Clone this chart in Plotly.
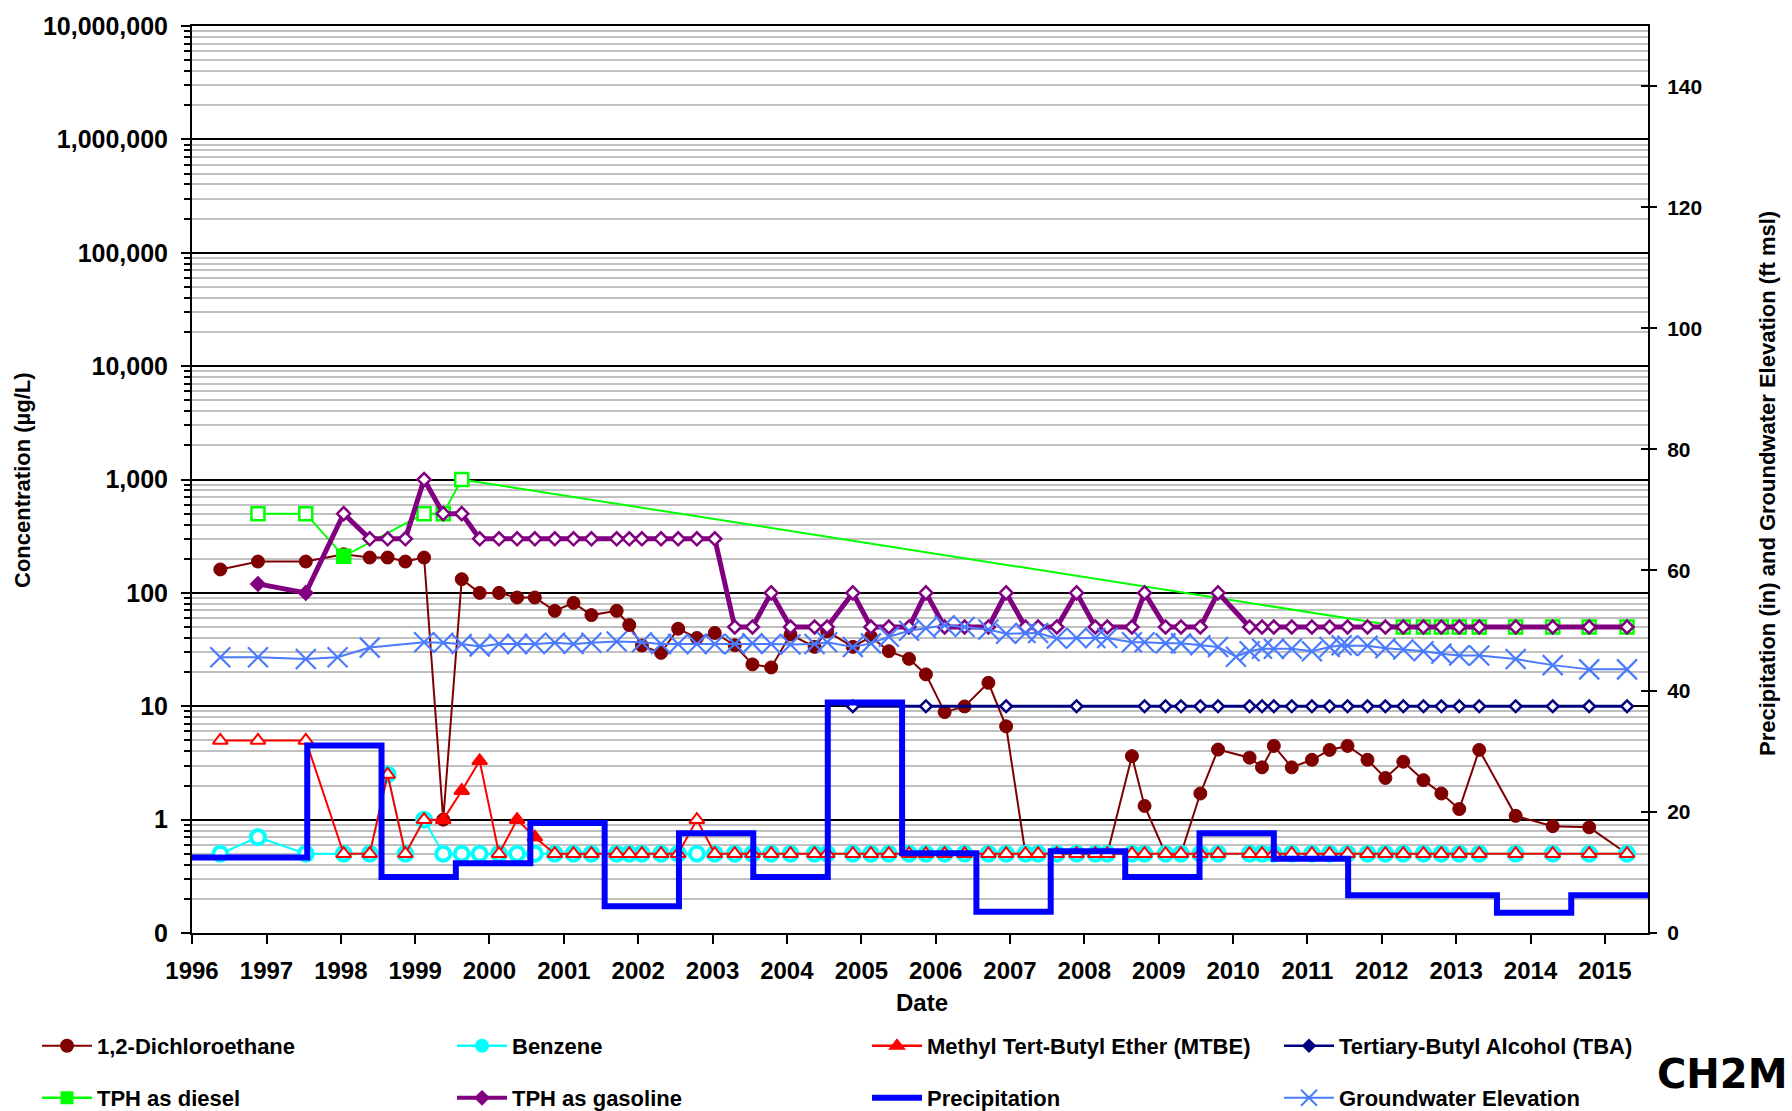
import plotly.graph_objects as go

# ---------------- data ----------------
sample_dates = [
    '1996-05-19', '1996-11-20', '1997-07-13', '1998-01-15', '1998-05-23', '1998-08-19', '1998-11-14',
    '1999-02-14', '1999-05-19', '1999-08-18', '1999-11-14',
    '2000-02-17', '2000-05-16', '2000-08-11', '2000-11-17',
    '2001-02-17', '2001-05-16', '2001-09-17', '2001-11-18',
    '2002-01-19', '2002-04-23', '2002-07-16', '2002-10-16',
    '2003-01-12', '2003-04-20', '2003-07-16', '2003-10-16',
    '2004-01-19', '2004-05-16', '2004-07-17', '2004-11-20',
    '2005-02-17', '2005-05-16', '2005-08-23', '2005-11-14',
    '2006-02-14', '2006-05-23', '2006-09-17', '2006-12-13',
    '2007-03-18', '2007-05-19', '2007-08-19', '2007-11-24',
    '2008-02-24', '2008-04-23', '2008-08-22', '2008-10-23',
    '2009-02-03', '2009-04-20', '2009-07-24', '2009-10-19',
    '2010-03-23', '2010-05-23', '2010-07-20', '2010-10-16',
    '2011-01-23', '2011-04-20', '2011-07-17', '2011-10-23',
    '2012-01-19', '2012-04-16', '2012-07-24', '2012-10-20',
    '2013-01-16', '2013-04-24', '2013-10-20',
    '2014-04-20', '2014-10-16', '2015-04-20']

dichloroethane = [161, 189, 189, 219, 205, 205, 189, 205, 1.0, 132,
                  100, 100, 91, 91, 69.5, 81.6, 63.7, 69.5, 52, 34.3,
                  29.6, 48.3, 40, 44.3, 34.5, 23.4, 22, 42.9, 33.4, 45.8,
                  33.4, 41, 30.6, 26.2, 19.1, 8.88, 9.96, 16.1, 6.65, 0.5,
                  0.5, 0.5, 0.5, 0.5, 0.5, 3.63, 1.32, 0.5, 0.5, 1.7,
                  4.15, 3.52, 2.89, 4.47, 2.89, 3.37, 4.12, 4.47, 3.37, 2.33,
                  3.24, 2.23, 1.70, 1.24, 4.12, 1.08, 0.875, 0.855, 0.5]

benzene = [0.5, 0.7, 0.5, 0.5, 0.5, 2.5, 0.5, 1.0] + [0.5] * 61

mtbe = ([5, 5, 5, 0.5, 0.5, 2.5, 0.5, 1.0, 1.0, 1.8, 3.3, 0.5, 1.0, 0.7]
        + [0.5] * 8 + [1.0] + [0.5] * 46)
mtbe_detected = [False] * 8 + [True, True, True, False, True, True] + [False] * 55

tba = ([None] * 30
       + [10, None, None, None, 10, None, None, None, 10, None, None, None, 10, None, None, None, 10]
       + [10] * 22)

tph_diesel = [None, 500, 500, 210, None, None, None, 500, 500, 1000] + [None] * 50 + [50] * 9
diesel_detected = [False, False, False, True] + [False] * 65

tph_gasoline = ([None, 120, 100, 500, 300, 300, 300, 1000, 500, 500] + [300] * 14
                + [50, 50, 100, 50, 50, 50, 100, 50, 50, 50, 100, 50, 50, 50, 100,
                   50, 50, 50, 100, 50, 50, 50, 100, 50, 50, 50, 100] + [50] * 18)
gasoline_detected = [False, True, True] + [False] * 66

precip_dates = ['1996-01-01', '1997-07-20', '1998-07-20', '1999-07-20', '2000-07-20', '2001-07-20',
                '2002-07-20', '2003-07-20', '2004-07-20', '2005-07-20', '2006-07-20', '2007-07-20',
                '2008-07-20', '2009-07-20', '2010-07-20', '2011-07-20', '2012-07-20', '2013-07-20',
                '2014-07-20', '2015-08-01']
precipitation = [12.5, 31.0, 9.25, 11.55, 18.2, 4.44, 16.5, 9.25, 38.1, 13.2,
                 3.5, 13.5, 9.25, 16.5, 12.3, 6.24, 6.24, 3.34, 6.24, 6.24]

gw_dates = ['1996-05-19', '1996-11-20', '1997-07-13', '1997-12-16', '1998-05-23',
            '1999-02-14', '1999-05-19', '1999-08-18', '1999-11-14',
            '2000-02-17', '2000-05-16', '2000-08-11', '2000-11-17',
            '2001-02-17', '2001-05-16', '2001-09-17',
            '2002-01-19', '2002-04-23', '2002-07-16', '2002-10-16',
            '2003-01-12', '2003-04-20', '2003-07-16', '2003-10-16',
            '2004-01-19', '2004-05-16', '2004-07-17', '2004-11-20',
            '2005-02-17', '2005-05-16', '2005-08-23', '2005-11-14',
            '2006-02-14', '2006-05-23', '2006-09-17', '2006-12-13',
            '2007-03-18', '2007-05-19', '2007-08-19', '2007-11-24',
            '2008-02-24', '2008-04-23', '2008-08-22', '2008-10-23',
            '2009-02-03', '2009-04-20', '2009-07-24', '2009-10-19',
            '2010-01-15', '2010-03-23', '2010-05-23', '2010-07-20', '2010-10-16',
            '2011-01-23', '2011-04-20', '2011-06-18', '2011-07-17', '2011-10-23',
            '2012-01-19', '2012-04-16', '2012-07-24', '2012-10-20',
            '2013-01-16', '2013-04-24', '2013-10-20',
            '2014-04-20', '2014-10-16', '2015-04-20']
gw_elevation = [45.6, 45.6, 45.3, 45.6, 47.2,
                48.1, 48.0, 47.8, 47.4,
                47.8, 47.8, 47.8, 48.0,
                47.8, 48.0, 48.2,
                48.1, 47.8, 47.8, 47.8,
                47.8, 47.8, 47.9, 47.8,
                47.7, 47.8, 48.1, 47.3,
                47.9, 49.0, 50.0, 50.4,
                50.9, 50.6, 50.2, 49.5,
                49.6, 49.6, 48.7, 48.8,
                48.8, 48.8, 48.1, 48.1,
                47.9, 47.9, 47.6, 47.3,
                45.7, 46.6, 47.0, 47.0, 47.0,
                46.6, 47.3, 47.6, 47.5, 47.5,
                47.1, 46.9, 46.6, 46.2,
                45.9, 45.9, 45.3,
                44.3, 43.6, 43.6]

conc_tickvals = [0.1, 1, 10, 100, 1000, 10000, 100000, 1000000, 10000000]
conc_ticktext = ['0', '1', '10', '100', '1,000', '10,000', '100,000', '1,000,000', '10,000,000']
right_tickvals = [0, 20, 40, 60, 80, 100, 120, 140]

# ---------------- layout geometry ----------------
W, H = 1792, 1111
L, R, T, B = 192, 1648, 20, 933
FONT = 'Liberation Sans, Arial, sans-serif'

def px_to_paper(px, py):
    return (px - L) / (R - L), (B - py) / (B - T)

MAROON, CYAN, RED, NAVY = '#800000', '#00FFFF', '#FF0000', '#000080'
LIME, PURPLE, BLUE, GWBLUE = '#00FF00', '#800080', '#0000FF', '#4A7BFF'

def fills(color, flags):
    return [color if f else 'white' for f in flags]

fig = go.Figure()

# precipitation & groundwater on the right axis
fig.add_trace(go.Scatter(x=precip_dates, y=precipitation, yaxis='y2', mode='lines',
                         line=dict(color=BLUE, width=6, shape='hv'), showlegend=False))

fig.add_trace(go.Scatter(x=sample_dates, y=dichloroethane, mode='lines+markers',
                         line=dict(color=MAROON, width=2),
                         marker=dict(symbol='circle', size=13, color=MAROON,
                                     line=dict(color=MAROON, width=1)), showlegend=False))
fig.add_trace(go.Scatter(x=sample_dates, y=benzene, mode='lines+markers',
                         line=dict(color=CYAN, width=2),
                         marker=dict(symbol='circle', size=14, color='white',
                                     line=dict(color=CYAN, width=4)), showlegend=False))
fig.add_trace(go.Scatter(x=sample_dates, y=mtbe, mode='lines+markers',
                         line=dict(color=RED, width=2),
                         marker=dict(symbol='triangle-up', size=13, color=fills(RED, mtbe_detected),
                                     line=dict(color=RED, width=2)), showlegend=False))
fig.add_trace(go.Scatter(x=sample_dates, y=tba, mode='lines+markers', connectgaps=True,
                         line=dict(color=NAVY, width=3),
                         marker=dict(symbol='diamond', size=9, color='white',
                                     line=dict(color=NAVY, width=2.5)), showlegend=False))
fig.add_trace(go.Scatter(x=sample_dates, y=tph_diesel, mode='lines+markers', connectgaps=True,
                         line=dict(color=LIME, width=2),
                         marker=dict(symbol='square', size=13, color=fills(LIME, diesel_detected),
                                     line=dict(color=LIME, width=2.5)), showlegend=False))
fig.add_trace(go.Scatter(x=sample_dates, y=tph_gasoline, mode='lines+markers', connectgaps=True,
                         line=dict(color=PURPLE, width=5),
                         marker=dict(symbol='diamond', size=10, color=fills(PURPLE, gasoline_detected),
                                     line=dict(color=PURPLE, width=2.5)), showlegend=False))

fig.add_trace(go.Scatter(x=gw_dates, y=gw_elevation, yaxis='y2', mode='lines+markers',
                         line=dict(color=GWBLUE, width=2),
                         marker=dict(symbol='x-thin', size=20, color=GWBLUE,
                                     line=dict(color=GWBLUE, width=2.2)), showlegend=False))

# helper trace for crossing tick marks on right axis
fig.add_trace(go.Scatter(x=[None], y=[None], yaxis='y3', showlegend=False, hoverinfo='skip'))

# legend entries: (name, colour, line width, symbol, size, text-left px, row-centre px)
legend_items = [
    ('1,2-Dichloroethane', MAROON, 2, 'circle', 12, 99, 1046),
    ('Benzene', CYAN, 2.5, 'circle', 12, 514, 1046),
    ('Methyl Tert-Butyl Ether (MTBE)', RED, 2.5, 'triangle-up', 12, 929, 1046),
    ('Tertiary-Butyl Alcohol (TBA)', NAVY, 2.5, 'diamond', 9, 1341, 1046),
    ('TPH as diesel', LIME, 2.5, 'square', 11, 99, 1098),
    ('TPH as gasoline', PURPLE, 4, 'diamond', 10, 514, 1098),
    ('Precipitation', BLUE, 6, None, 0, 929, 1098),
    ('Groundwater Elevation', GWBLUE, 2, 'x-thin', 16, 1341, 1098),
]

legend_layouts = {}
for i, (name, col, lw, sym, ms, tx, ty) in enumerate(legend_items):
    lg = 'legend' if i == 0 else 'legend%d' % (i + 1)
    if sym is None:
        fig.add_trace(go.Scatter(x=[None], y=[None], mode='lines', name=name,
                                 line=dict(color=col, width=lw), legend=lg))
    else:
        fig.add_trace(go.Scatter(x=[None], y=[None], mode='lines+markers', name=name,
                                 line=dict(color=col, width=lw),
                                 marker=dict(symbol=sym, size=ms, color=col,
                                             line=dict(color=col, width=2)), legend=lg))
    legend_layouts[lg] = dict(orientation='h', xref='container', yref='container',
                              xanchor='left', yanchor='middle', itemwidth=50,
                              x=(tx - 62) / W, y=(H - ty) / H,
                              font=dict(family=FONT, size=22, color='black', weight='bold'),
                              bgcolor='rgba(0,0,0,0)', borderwidth=0)

tick_font = dict(family=FONT, size=24, color='black', weight='bold')
minor_vals = [k * 10 ** d for d in range(-1, 7) for k in range(2, 10)]

t_title = dict(family=FONT, size=22, color='black', weight='bold')
ax_l = px_to_paper(23, 477)
ax_r = px_to_paper(1768, 481)
ax_d = px_to_paper(922, 1003)
ax_c = px_to_paper(1722, 1075)

fig.update_layout(
    width=W, height=H,
    margin=dict(l=L, r=W - R, t=T, b=H - B, pad=0),
    paper_bgcolor='white', plot_bgcolor='white',
    font=dict(family=FONT, color='black'),
    xaxis=dict(type='date', range=['1996-01-01', '2015-08-01'], dtick='M12', tick0='1996-01-01',
               tickformat='%Y', ticks='outside', ticklen=9, tickwidth=2, tickcolor='black',
               showgrid=False, showline=True, linecolor='black', linewidth=2, mirror=True,
               tickfont=tick_font, ticklabelstandoff=6, zeroline=False),
    yaxis=dict(type='log', range=[-1, 7], tickmode='array', tickvals=conc_tickvals,
               ticktext=conc_ticktext, ticks='outside', ticklen=9, tickwidth=2, tickcolor='black',
               showgrid=True, gridcolor='black', gridwidth=2,
               minor=dict(tickmode='array', tickvals=minor_vals, ticks='outside', ticklen=6,
                          tickwidth=2, tickcolor='black', showgrid=True, gridcolor='#C0C0C0',
                          gridwidth=2),
               showline=True, linecolor='black', linewidth=2, zeroline=False,
               tickfont=dict(family=FONT, size=25, color='black', weight='bold'),
               ticklabelstandoff=8),
    yaxis2=dict(overlaying='y', side='right', range=[0, 150], tickmode='array',
                tickvals=right_tickvals, ticks='outside', ticklen=7, tickwidth=2,
                tickcolor='black', showgrid=False, zeroline=False, showline=True,
                linecolor='black', linewidth=2,
                tickfont=dict(family=FONT, size=21, color='black', weight='bold'),
                ticklabelstandoff=6),
    yaxis3=dict(overlaying='y', side='right', range=[0, 150], tickmode='array',
                tickvals=right_tickvals, ticks='inside', ticklen=7, tickwidth=2,
                tickcolor='black', showgrid=False, zeroline=False, showline=False,
                showticklabels=False),
    annotations=[
        dict(text='Concentration (µg/L)', x=ax_l[0], y=ax_l[1], xref='paper', yref='paper',
             textangle=-90, showarrow=False, font=t_title, xanchor='center', yanchor='middle'),
        dict(text='Precipitation (in) and Groundwater Elevation (ft msl)', x=ax_r[0], y=ax_r[1],
             xref='paper', yref='paper', textangle=-90, showarrow=False, font=t_title,
             xanchor='center', yanchor='middle'),
        dict(text='Date', x=ax_d[0], y=ax_d[1], xref='paper', yref='paper', showarrow=False,
             font=dict(family=FONT, size=24, color='black', weight='bold'),
             xanchor='center', yanchor='middle'),
        dict(text='CH2M', x=ax_c[0], y=ax_c[1], xref='paper', yref='paper', showarrow=False,
             font=dict(family='DejaVu Sans, sans-serif', size=40, color='black', weight='bold'),
             xanchor='center', yanchor='middle'),
    ],
)
fig.update_layout(**legend_layouts)

fig.write_html("out.html", config={'displayModeBar': False},
               post_script="document.body.style.margin='0';document.body.style.overflow='hidden';")
